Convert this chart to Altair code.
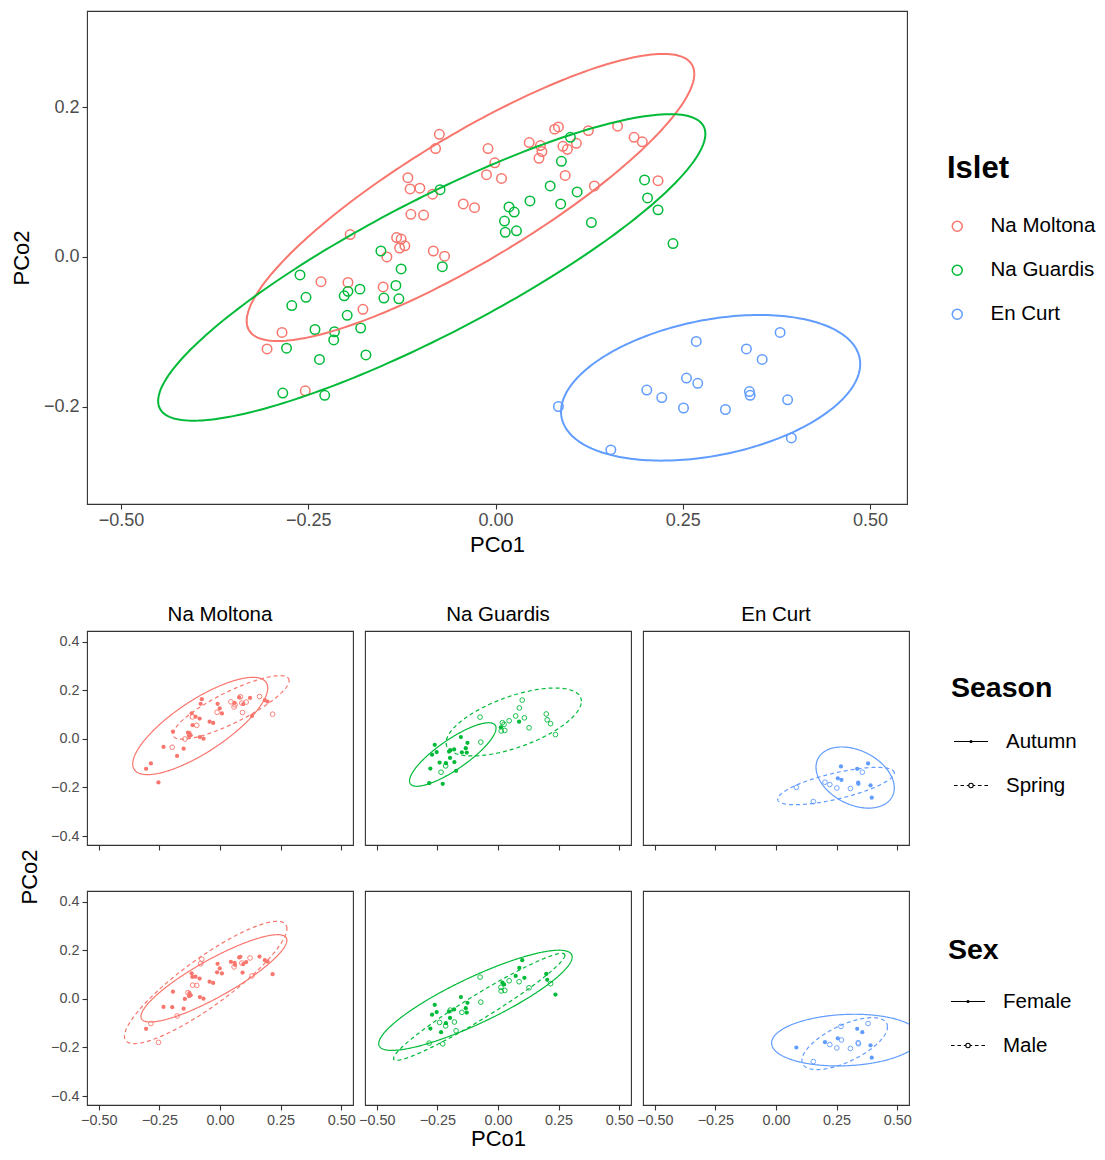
import altair as alt
import numpy as np
import pandas as pd

FONT = "Liberation Sans"
ISLETS = ["Na Moltona", "Na Guardis", "En Curt"]
COLORS = ["#F8766D", "#00BA38", "#619CFF"]

# ---------------- point data (PCo1, PCo2, season, sex) ----------------
nm_pco1 = [-0.075, -0.080, -0.010, -0.001, -0.012, 0.008, -0.117, -0.114, -0.101, -0.084,
           -0.043, -0.028, -0.113, -0.096, -0.194, -0.132, -0.126, -0.128, -0.121, -0.083,
           -0.068, -0.145, 0.045, 0.060, 0.062, 0.058, 0.079, 0.084, 0.090, 0.096,
           0.108, 0.124, 0.163, 0.185, 0.196, 0.093, 0.132, 0.217, -0.233, -0.197,
           -0.150, -0.177, -0.285, -0.305, -0.254]
nm_pco2 = [0.164, 0.145, 0.145, 0.126, 0.110, 0.105, 0.106, 0.091, 0.092, 0.084,
           0.071, 0.066, 0.057, 0.056, 0.030, 0.026, 0.024, 0.012, 0.015, 0.008,
           0.001, 0.000, 0.153, 0.149, 0.141, 0.132, 0.171, 0.174, 0.148, 0.144,
           0.152, 0.169, 0.175, 0.160, 0.154, 0.109, 0.095, 0.102, -0.033, -0.034,
           -0.040, -0.070, -0.101, -0.123, -0.179]
nm_season = list("AAAASAASAAAAASAAAAAAASSASSASSASASAASASASAAAAA")
nm_sex = list("MMFFFFFFFFFFMMFMFFFFFFFFFMFFMFFMFFFFMFFFFMMFM")

ng_pco1 = [-0.074, -0.153, 0.018, 0.025, 0.012, 0.013, 0.028, 0.128, 0.199, 0.203,
           0.217, 0.237, -0.126, -0.071, -0.261, -0.253, -0.272, -0.202, -0.197, -0.181,
           -0.133, -0.149, -0.129, -0.198, -0.241, -0.215, -0.216, -0.180, -0.279, -0.235,
           -0.173, -0.284, -0.228, 0.100, 0.088, 0.073, 0.109, 0.087, 0.046]
ng_pco2 = [0.090, 0.008, 0.067, 0.060, 0.048, 0.033, 0.035, 0.046, 0.103, 0.079,
           0.063, 0.018, -0.016, -0.013, -0.024, -0.054, -0.065, -0.052, -0.046, -0.043,
           -0.038, -0.055, -0.056, -0.078, -0.097, -0.100, -0.111, -0.095, -0.122, -0.137,
           -0.131, -0.182, -0.185, 0.160, 0.128, 0.095, 0.087, 0.071, 0.075]
ng_season = list("SASSASSSSSSSASAAAAAAAAAAAASAASAAASSSSAS")
ng_sex = list("MFFFMMMMFFMFFMFFFFMFFMFFMFMMFFMMMFFFFMM")

ec_pco1 = [0.268, 0.335, 0.380, 0.356, 0.255, 0.270, 0.202, 0.222, 0.251, 0.307,
           0.339, 0.340, 0.390, 0.084, 0.154, 0.395]
ec_pco2 = [-0.113, -0.123, -0.101, -0.137, -0.162, -0.169, -0.178, -0.188, -0.202, -0.204,
           -0.180, -0.185, -0.191, -0.200, -0.258, -0.242]
ec_season = list("AAASAASSSSAAASSA")
ec_sex = list("MFMFFMFMMMMMFFMF")

SEASONS = ["Autumn", "Spring"]
SEXES = ["Female", "Male"]
season_names = {"A": "Autumn", "S": "Spring"}
sex_names = {"F": "Female", "M": "Male"}

# ---------------- ellipse parameters (centre, half-widths, cos phase) ----------------
top_ell_cx = [-0.0334, -0.0851, 0.2872]
top_ell_cy = [0.0796, -0.0140, -0.1750]
top_ell_rx = [0.2988, 0.3653, 0.1997]
top_ell_ry = [0.1920, 0.2050, 0.0974]
top_ell_c = [0.861, 0.871, 0.327]

season_ell = {
    "Na Moltona": [(-0.0815, 0.0535, 0.2785, 0.2005, 0.78), (0.0455, 0.130, 0.2395, 0.131, 0.84)],
    "Na Guardis": [(-0.1865, -0.064, 0.1785, 0.131, 0.83), (0.065, 0.07, 0.279, 0.14, 0.61)],
    "En Curt": [(0.3265, -0.159, 0.1615, 0.126, -0.34), (0.2475, -0.194, 0.2405, 0.077, 0.70)],
}
sex_ell = {
    "Na Moltona": [(-0.025, 0.085, 0.301, 0.180, 0.872), (-0.059, 0.068, 0.335, 0.252, 0.88)],
    "Na Guardis": [(-0.093, -0.0055, 0.399, 0.2065, 0.864), (-0.0775, -0.0325, 0.3535, 0.2205, 0.964)],
    "En Curt": [(0.2885, -0.1695, 0.3065, 0.1065, 0.112), (0.2835, -0.184, 0.1765, 0.107, 0.645)],
}

# ---------------- tables ----------------
rows = []
for isl, xs, ys, ss, gs in [
    ("Na Moltona", nm_pco1, nm_pco2, nm_season, nm_sex),
    ("Na Guardis", ng_pco1, ng_pco2, ng_season, ng_sex),
    ("En Curt", ec_pco1, ec_pco2, ec_season, ec_sex),
]:
    for a, b, s, g in zip(xs, ys, ss, gs):
        rows.append({"islet": isl, "pco1": a, "pco2": b,
                     "season": season_names[s], "sex": sex_names[g]})
pts = pd.DataFrame(rows)


def ellipse_rows(cx, cy, rx, ry, c, **keys):
    phi = np.arccos(c)
    t = np.linspace(0, 2 * np.pi, 241)
    return [dict(keys, pco1=cx + rx * np.cos(v), pco2=cy + ry * np.cos(v - phi), t=i)
            for i, v in enumerate(t)]


top_rows = []
for i, isl in enumerate(ISLETS):
    top_rows += ellipse_rows(top_ell_cx[i], top_ell_cy[i], top_ell_rx[i], top_ell_ry[i],
                             top_ell_c[i], islet=isl)
ell_top = pd.DataFrame(top_rows)

srows, xrows = [], []
for isl in ISLETS:
    for lev, p in zip(SEASONS, season_ell[isl]):
        srows += ellipse_rows(*p, islet=isl, season=lev)
    for lev, p in zip(SEXES, sex_ell[isl]):
        xrows += ellipse_rows(*p, islet=isl, sex=lev)
ell_season = pd.DataFrame(srows)
ell_sex = pd.DataFrame(xrows)

# ---------------- top chart ----------------
cscale = alt.Scale(domain=ISLETS, range=COLORS)
xt = alt.Scale(domain=[-0.5454, 0.5494], nice=False, zero=False)
yt = alt.Scale(domain=[-0.3304, 0.329], nice=False, zero=False)
xt_axis = alt.Axis(values=[-0.5, -0.25, 0, 0.25, 0.5], format=".2f", labelFontSize=18,
                   titleFontSize=22, titlePadding=5, labelPadding=2)
yt_axis = alt.Axis(values=[-0.2, 0, 0.2], format=".1f", labelFontSize=18,
                   titleFontSize=22, titlePadding=10, labelPadding=3)

top_pts = alt.Chart(pts).mark_point(shape="circle", filled=False, size=90, strokeWidth=1.5,
                                    opacity=1).encode(
    x=alt.X("pco1:Q", scale=xt, axis=xt_axis, title="PCo1"),
    y=alt.Y("pco2:Q", scale=yt, axis=yt_axis, title="PCo2"),
    color=alt.Color("islet:N", scale=cscale, legend=alt.Legend(
        title="Islet", orient="none", legendX=860, legendY=143, titleFontSize=31,
        titleFontWeight="bold", labelFontSize=20.5, symbolSize=100, symbolStrokeWidth=1.5,
        rowPadding=23, titlePadding=31, labelOffset=23, symbolOffset=0, padding=0)),
)
top_ell = alt.Chart(ell_top).mark_line(strokeWidth=2).encode(
    x=alt.X("pco1:Q", scale=xt, axis=xt_axis, title="PCo1"),
    y=alt.Y("pco2:Q", scale=yt, axis=yt_axis, title="PCo2"),
    stroke=alt.Stroke("islet:N", scale=cscale, legend=None),
    detail="islet:N",
    order=alt.Order("t:Q"),
)
top = alt.layer(top_pts, top_ell).properties(width=820, height=493)

# ---------------- facet panels ----------------
# legend keys: line with a dot (solid line + filled dot / dashed line + open dot)
PATH_SOLID_DOT = ("M-1,0H1"
                  "M0.06,0A0.06,0.06,0,1,1,-0.06,0A0.06,0.06,0,1,1,0.06,0"
                  "M0.025,0A0.025,0.025,0,1,1,-0.025,0A0.025,0.025,0,1,1,0.025,0")
PATH_DASHED_RING = ("M-1,0H-0.79M-0.62,0H-0.41M-0.25,0H-0.14"
                    "M0.14,0H0.25M0.41,0H0.62M0.79,0H1"
                    "M0.13,0A0.13,0.13,0,1,1,-0.13,0A0.13,0.13,0,1,1,0.13,0")
xf = alt.Scale(domain=[-0.5487, 0.5487], nice=False, zero=False)
yf = alt.Scale(domain=[-0.437, 0.445], nice=False, zero=False)


def make_legend(title, lx, ly, tpad):
    return alt.Legend(title=title, orient="none", legendX=lx, legendY=ly, titleFontSize=28.5,
                      titleFontWeight="bold", labelFontSize=20.5, symbolSize=1156,
                      symbolStrokeColor="black", symbolStrokeWidth=1.1,
                      symbolFillColor="transparent", symbolOpacity=1, rowPadding=15,
                      titlePadding=tpad, labelOffset=17, symbolOffset=2, padding=0)


def panel(i, field, levels, ell_df, row, legend):
    isl, col = ISLETS[i], COLORS[i]
    d = pts[pts.islet == isl]
    e = ell_df[ell_df.islet == isl]
    xax = alt.Axis(values=[-0.5, -0.25, 0, 0.25, 0.5], format=".2f", labels=(row == 2),
                   labelFontSize=14.4, labelPadding=3, titleFontSize=22, titlePadding=2)
    xtitle = "PCo1" if (row == 2 and i == 1) else None
    if i == 0:
        yax = alt.Axis(values=[-0.4, -0.2, 0, 0.2, 0.4], format=".1f", labelFontSize=14.4,
                       labelPadding=3)
    else:
        yax = None
    X = alt.X("pco1:Q", scale=xf, axis=xax, title=xtitle)
    Y = alt.Y("pco2:Q", scale=yf, axis=yax, title=None)
    # dash scale takes its (alphabetical) domain from the data
    dash = alt.Scale(range=[[1, 0], [4, 3]])
    shp = alt.Scale(domain=levels, range=[PATH_SOLID_DOT, PATH_DASHED_RING])

    filled = alt.Chart(d).transform_filter(alt.datum[field] == levels[0]).mark_point(
        shape="circle", filled=True, size=18, color=col, opacity=1).encode(x=X, y=Y)
    hollow = alt.Chart(d).transform_filter(alt.datum[field] == levels[1]).mark_point(
        shape="circle", filled=False, size=22, strokeWidth=0.9, color=col, opacity=1
    ).encode(x=X, y=Y)
    ell = alt.Chart(e).mark_line(strokeWidth=1.2, color=col, clip=True).encode(
        x=X, y=Y,
        strokeDash=alt.StrokeDash(f"{field}:N", scale=dash, legend=None),
        detail=f"{field}:N",
        order=alt.Order("t:Q"),
    )
    layers = [filled, hollow, ell]
    if legend is not None:
        key = alt.Chart(d).mark_point(opacity=0, color="black", filled=False).encode(
            x=X, y=Y, shape=alt.Shape(f"{field}:N", scale=shp, legend=legend))
        layers.append(key)
    ch = alt.layer(*layers).properties(width=266, height=214)
    if row == 1:
        ch = ch.properties(title=alt.TitleParams(isl, fontSize=20.5, fontWeight="normal",
                                                 font=FONT, color="black", offset=6))
    return ch


RES = dict(strokeDash="independent", shape="independent")

row1 = alt.hconcat(
    panel(0, "season", SEASONS, ell_season, 1, None),
    panel(1, "season", SEASONS, ell_season, 1, None),
    panel(2, "season", SEASONS, ell_season, 1, make_legend("Season", 308, 43, 21)),
    spacing=12, bounds="flush",
).resolve_scale(**RES)

row2 = alt.hconcat(
    panel(0, "sex", SEXES, ell_sex, 2, None),
    panel(1, "sex", SEXES, ell_sex, 2, None),
    panel(2, "sex", SEXES, ell_sex, 2, make_legend("Sex", 305, 45, 19)),
    spacing=12, bounds="flush",
).resolve_scale(**RES)

bottom = alt.vconcat(
    row1, row2, spacing=38,
    title=alt.TitleParams("PCo2", orient="left", anchor="middle", fontSize=22,
                          fontWeight="normal", font=FONT, color="black", offset=8),
).resolve_scale(**RES)

chart = alt.vconcat(top, bottom, spacing=47).resolve_scale(
    color="independent", stroke="independent", **RES
).properties(
    padding={"left": 1, "top": 2, "right": 0, "bottom": 0}
).configure_view(
    stroke="#333333", strokeWidth=1.1
).configure_axis(
    domain=False, grid=False, tickColor="#333333", tickWidth=1.1, tickSize=5,
    labelColor="#4D4D4D", labelFont=FONT, titleFont=FONT, titleFontWeight="normal",
    titleColor="black"
).configure_legend(
    labelFont=FONT, titleFont=FONT, labelColor="black", titleColor="black"
).configure_title(font=FONT)

chart.save("out.html", embed_options={"renderer": "svg", "actions": False})
